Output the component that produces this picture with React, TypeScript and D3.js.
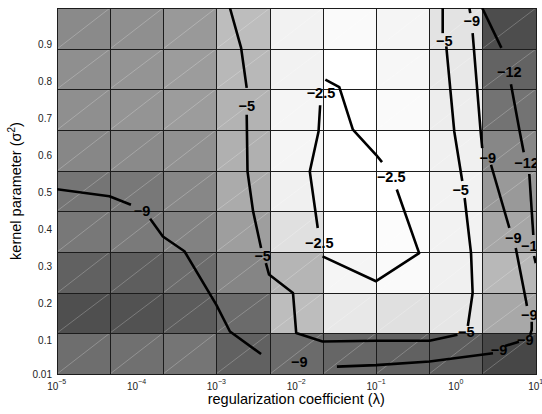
import React, { useEffect, useRef } from "react";
import * as d3 from "d3";

// cell edges of the pcolor grid
const lambdaEdges = [1e-5, 4.64e-5, 2.15e-4, 1e-3, 4.64e-3, 2.15e-2, 1e-1, 4.64e-1, 2.15, 10];
const sigmaEdges = [0.01, 0.12, 0.23, 0.34, 0.45, 0.56, 0.67, 0.78, 0.89, 1.0];

const xTicks = [1e-5, 1e-4, 1e-3, 1e-2, 1e-1, 1, 10];
const xTickExp = ["\u22125", "\u22124", "\u22123", "\u22122", "\u22121", "0", "1"];
const yTicks = [0.01, 0.1, 0.2, 0.3, 0.4, 0.5, 0.6, 0.7, 0.8, 0.9];
const yTickLabels = ["0.01", "0.1", "0.2", "0.3", "0.4", "0.5", "0.6", "0.7", "0.8", "0.9"];

// grey level of each cell (0 black .. 1 white), rows from bottom, columns left to right
const cellLevels = [
  [0.43, 0.44, 0.46, 0.38, 0.42, 0.4, 0.38, 0.36, 0.28],
  [0.31, 0.32, 0.36, 0.42, 0.74, 0.91, 0.88, 0.9, 0.66],
  [0.38, 0.37, 0.42, 0.52, 0.71, 0.96, 0.98, 0.94, 0.72],
  [0.47, 0.48, 0.51, 0.62, 0.88, 1.0, 0.99, 0.95, 0.65],
  [0.46, 0.47, 0.53, 0.67, 0.94, 1.0, 1.0, 0.95, 0.6],
  [0.53, 0.54, 0.57, 0.69, 0.96, 1.0, 1.0, 0.94, 0.53],
  [0.56, 0.58, 0.61, 0.7, 0.96, 1.0, 0.98, 0.93, 0.45],
  [0.56, 0.58, 0.61, 0.72, 0.95, 1.0, 0.97, 0.91, 0.39],
  [0.54, 0.56, 0.6, 0.74, 0.95, 0.98, 0.96, 0.89, 0.3],
];

// contour pieces as [log10(lambda), sigma], broken where the labels sit
const contour25 = [
  [[-1.635, 0.806], [-1.46, 0.786], [-1.29, 0.671], [-1.0, 0.603], [-0.925, 0.583]],
  [[-0.74, 0.509], [-0.46, 0.337], [-1.0, 0.261], [-1.67, 0.328]],
  [[-1.73, 0.405], [-1.83, 0.558], [-1.72, 0.666], [-1.7, 0.737]],
];
const labels25 = [[-0.81, 0.543], [-1.71, 0.364], [-1.69, 0.77]];

const contour5 = [
  [[-2.83, 1.0], [-2.69, 0.892], [-2.62, 0.784]],
  [[-2.62, 0.711], [-2.61, 0.558], [-2.54, 0.45], [-2.44, 0.351]],
  [[-2.38, 0.31], [-2.34, 0.279], [-2.04, 0.229], [-2.0, 0.121], [-1.67, 0.098], [-1.0, 0.1], [-0.33, 0.1], [0.02, 0.116]],
  [[0.15, 0.14], [0.21, 0.229], [0.19, 0.337], [0.11, 0.486]],
  [[0.08, 0.532], [-0.02, 0.666], [-0.12, 0.896]],
  [[-0.165, 0.932], [-0.165, 1.0]],
];
const labels5 = [[-2.62, 0.735], [-2.42, 0.329], [0.13, 0.124], [0.06, 0.508], [-0.145, 0.912]];

const contour9 = [
  [[-5.0, 0.51], [-4.34, 0.491], [-4.07, 0.468]],
  [[-3.83, 0.43], [-3.67, 0.382], [-3.4, 0.342], [-3.0, 0.197], [-2.83, 0.125], [-2.44, 0.064]],
  [[-1.49, 0.03], [-1.0, 0.034], [-0.33, 0.044], [0.465, 0.066]],
  [[0.616, 0.086], [0.79, 0.097]],
  [[0.93, 0.116], [0.95, 0.129], [0.95, 0.151]],
  [[0.89, 0.194], [0.88, 0.207], [0.75, 0.351]],
  [[0.67, 0.405], [0.44, 0.576]],
  [[0.33, 0.621], [0.31, 0.666], [0.21, 0.932]],
  [[0.18, 0.986], [0.17, 1.0]],
];
const labels9 = [[-3.93, 0.451], [-1.96, 0.042], [0.54, 0.075], [0.87, 0.102], [0.92, 0.17], [0.72, 0.378], [0.4, 0.594], [0.2, 0.965]];

const contour12 = [
  [[0.33, 1.0], [0.57, 0.892]],
  [[0.69, 0.794], [0.8, 0.665], [0.85, 0.61]],
  [[0.92, 0.551], [0.97, 0.386]],
  [[0.98, 0.329], [1.0, 0.31]],
];
const labels12 = [[0.67, 0.827], [0.885, 0.581], [0.97, 0.356]];

const contours = [
  { text: "\u22122.5", pieces: contour25, labels: labels25 },
  { text: "\u22125", pieces: contour5, labels: labels5 },
  { text: "\u22129", pieces: contour9, labels: labels9 },
  { text: "\u221212", pieces: contour12, labels: labels12 },
];

const font = "'Liberation Sans', Arial, Helvetica, sans-serif";

export default function App() {
  const ref = useRef<SVGSVGElement>(null);

  useEffect(() => {
    const left = 56.7,
      right = 535.7,
      top = 8,
      bottom = 374;
    const svg = d3.select(ref.current);
    svg.selectAll("*").remove();

    const x = d3.scaleLog().domain([1e-5, 10]).range([left, right]);
    const y = d3.scaleLinear().domain([0.01, 1]).range([bottom, top]);
    const grey = d3.scaleLinear<string>().domain([0, 1]).range(["#000", "#fff"]);
    const px = (v: number) => Math.round(x(v));
    const py = (v: number) => Math.round(y(v));

    svg
      .append("defs")
      .append("clipPath")
      .attr("id", "plot-clip")
      .append("rect")
      .attr("x", px(1e-5))
      .attr("y", py(1))
      .attr("width", px(10) - px(1e-5))
      .attr("height", py(0.01) - py(1));

    const cells = svg.append("g");
    cellLevels.forEach((row, r) =>
      row.forEach((v, c) => {
        const x0 = px(lambdaEdges[c]),
          x1 = px(lambdaEdges[c + 1]);
        const y0 = py(sigmaEdges[r]),
          y1 = py(sigmaEdges[r + 1]);
        cells
          .append("rect")
          .attr("x", x0)
          .attr("y", y1)
          .attr("width", x1 - x0)
          .attr("height", y0 - y1)
          .attr("fill", grey(v));
        cells
          .append("line")
          .attr("x1", x0)
          .attr("y1", y0)
          .attr("x2", x1)
          .attr("y2", y1)
          .attr("stroke", "#fff")
          .attr("stroke-opacity", 0.4)
          .attr("stroke-width", 0.6);
      })
    );

    const grid = svg.append("g").attr("stroke", "#1c1c1c").attr("stroke-width", 1);
    lambdaEdges.forEach((l) =>
      grid
        .append("line")
        .attr("x1", px(l) + 0.5)
        .attr("x2", px(l) + 0.5)
        .attr("y1", py(1))
        .attr("y2", py(0.01) + 1)
    );
    sigmaEdges.forEach((s) =>
      grid
        .append("line")
        .attr("y1", py(s) + 0.5)
        .attr("y2", py(s) + 0.5)
        .attr("x1", px(1e-5))
        .attr("x2", px(10) + 1)
    );

    const line = d3
      .line<number[]>()
      .x((d) => x(Math.pow(10, d[0])))
      .y((d) => y(d[1]));

    const cg = svg.append("g").attr("clip-path", "url(#plot-clip)");
    contours.forEach((c) => {
      c.pieces.forEach((p) =>
        cg
          .append("path")
          .attr("d", line(p))
          .attr("fill", "none")
          .attr("stroke", "#000")
          .attr("stroke-width", 2.6)
          .attr("stroke-linejoin", "round")
      );
      c.labels.forEach((l) =>
        cg
          .append("text")
          .attr("x", x(Math.pow(10, l[0])))
          .attr("y", y(l[1]))
          .attr("dy", "0.36em")
          .attr("text-anchor", "middle")
          .attr("font-family", font)
          .attr("font-weight", "bold")
          .attr("font-size", 14.5)
          .attr("fill", "#000")
          .text(c.text)
      );
    });

    // x tick labels, 10 with a raised exponent
    xTicks.forEach((t, i) => {
      const tx = svg
        .append("text")
        .attr("x", x(t))
        .attr("y", 390)
        .attr("text-anchor", "middle")
        .attr("font-family", font)
        .attr("font-size", 10)
        .attr("fill", "#222");
      tx.append("tspan").text("10");
      tx.append("tspan").attr("dy", -6).attr("font-size", 7).text(xTickExp[i]);
    });

    yTicks.forEach((t, i) =>
      svg
        .append("text")
        .attr("x", 52)
        .attr("y", y(t))
        .attr("dy", "0.35em")
        .attr("text-anchor", "end")
        .attr("font-family", font)
        .attr("font-size", 10)
        .attr("fill", "#222")
        .text(yTickLabels[i])
    );

    svg
      .append("text")
      .attr("x", (left + right) / 2)
      .attr("y", 404)
      .attr("text-anchor", "middle")
      .attr("font-family", font)
      .attr("font-size", 14.5)
      .attr("fill", "#000")
      .text("regularization coefficient (\u03bb)");

    const yt = svg
      .append("text")
      .attr("transform", `translate(21,${(top + bottom) / 2}) rotate(-90)`)
      .attr("text-anchor", "middle")
      .attr("font-family", font)
      .attr("font-size", 14.5)
      .attr("fill", "#000");
    yt.append("tspan").text("kernel parameter (\u03c3");
    yt.append("tspan").attr("dy", -6).attr("font-size", 10).text("2");
    yt.append("tspan").attr("dy", 6).text(")");
  }, []);

  return (
    <svg
      ref={ref}
      width={542}
      height={414}
      style={{ position: "absolute", left: 0, top: 0, background: "#fff" }}
    />
  );
}
